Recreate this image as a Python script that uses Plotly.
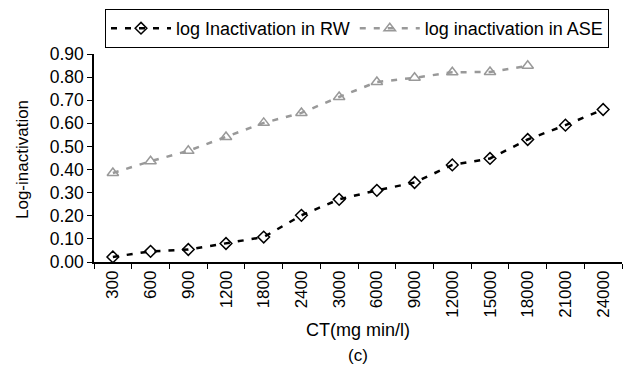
import plotly.graph_objects as go

ct_labels = ["300", "600", "900", "1200", "1800", "2400", "3000", "6000",
             "9000", "12000", "15000", "18000", "21000", "24000"]
rw_values = [0.022, 0.046, 0.054, 0.080, 0.108, 0.202, 0.271, 0.310,
             0.344, 0.420, 0.448, 0.530, 0.592, 0.660]
ase_labels = ct_labels[:12]
ase_values = [0.385, 0.436, 0.481, 0.541, 0.602, 0.645, 0.714, 0.779,
              0.797, 0.821, 0.822, 0.849]

FONT = "Liberation Sans, Arial, sans-serif"
L, R, T, B = 94, 4, 54, 105
W, H = 626, 367
plot_w = W - L - R
plot_h = H - T - B


def px_x(x):
    return (x - L) / plot_w


def px_y(y):
    return (H - B - y) / plot_h


fig = go.Figure()
fig.add_trace(go.Scatter(
    x=ct_labels, y=rw_values, name="log Inactivation in RW",
    mode="lines+markers",
    line=dict(color="black", width=2.5, dash="6px,8px"),
    marker=dict(symbol="diamond-open", size=9, color="black", line=dict(width=1.5)),
))
fig.add_trace(go.Scatter(
    x=ase_labels, y=ase_values, name="log inactivation in ASE",
    mode="lines+markers",
    line=dict(color="#999999", width=2.5, dash="6px,8px"),
    marker=dict(symbol="triangle-up-open", size=10, color="#999999", line=dict(width=1.5)),
))

fig.update_layout(
    width=W, height=H,
    margin=dict(l=L, r=R, t=T, b=B),
    paper_bgcolor="white", plot_bgcolor="white",
    font=dict(family=FONT, size=17, color="black"),
    showlegend=True,
    legend=dict(
        orientation="h", x=px_x(105), y=px_y(9), xanchor="left", yanchor="top",
        bordercolor="black", borderwidth=1, bgcolor="white",
        font=dict(family=FONT, size=18, color="black"),
        itemwidth=60, tracegroupgap=0,
    ),
    xaxis=dict(
        type="category", categoryorder="array", categoryarray=ct_labels,
        range=[-0.5, 13.5], tickson="boundaries",
        ticks="outside", ticklen=5, tickwidth=1, tickcolor="black",
        showline=True, linecolor="black", linewidth=1.5,
        showgrid=False, zeroline=False, tickangle=-90,
        tickfont=dict(family=FONT, size=17),
    ),
    yaxis=dict(
        range=[0, 0.9], tickvals=[0, 0.1, 0.2, 0.3, 0.4, 0.5, 0.6, 0.7, 0.8, 0.9],
        tickformat=".2f",
        ticks="outside", ticklen=5, tickwidth=1, tickcolor="black",
        showline=True, linecolor="black", linewidth=1.5,
        showgrid=False, zeroline=False,
        tickfont=dict(family=FONT, size=17.5),
    ),
    annotations=[
        dict(text="CT(mg min/l)", x=px_x(358), y=px_y(330), xref="paper", yref="paper",
             showarrow=False, xanchor="center", yanchor="middle",
             font=dict(family=FONT, size=18)),
        dict(text="(c)", x=px_x(358), y=px_y(355), xref="paper", yref="paper",
             showarrow=False, xanchor="center", yanchor="middle",
             font=dict(family=FONT, size=17)),
        dict(text="Log-inactivation", x=px_x(22), y=px_y(160), xref="paper", yref="paper",
             showarrow=False, xanchor="center", yanchor="middle", textangle=-90,
             font=dict(family=FONT, size=17)),
    ],
)

fig.write_html("out.html")
